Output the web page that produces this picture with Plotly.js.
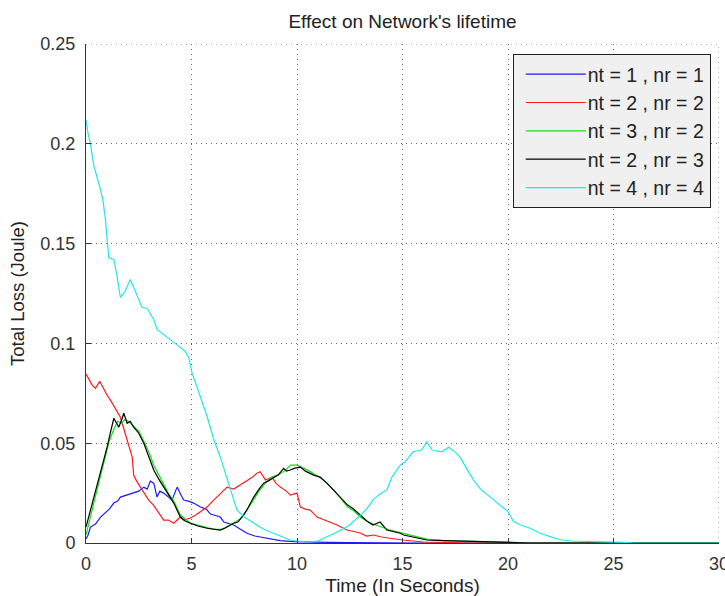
<!DOCTYPE html>
<html>
<head>
<meta charset="utf-8">
<script src="https://cdn.plot.ly/plotly-3.0.1.min.js"></script>
<style>html,body{margin:0;padding:0;background:#fff;}#chart{width:725px;height:596px;}</style>
</head>
<body>
<div id="chart"></div>
<script>
// ---- data ----
var seriesNames = ['nt = 1 , nr = 1', 'nt = 2 , nr = 2', 'nt = 3 , nr = 2', 'nt = 2 , nr = 3', 'nt = 4 , nr = 4'];

var tBlue = [0, 0.1, 0.21, 0.45, 0.69, 0.9, 1.1, 1.32, 1.5, 1.63, 1.9, 2.26, 2.5, 2.74, 2.9, 3.05, 3.21, 3.37, 3.5, 3.68, 3.9, 4.08, 4.24, 4.32, 4.5, 4.63, 4.85, 5.1, 5.42, 5.7, 5.9, 6.05, 6.37, 6.53, 6.8, 7.0, 7.3, 7.63, 8.0, 8.58, 9.2, 9.84, 10.5, 11.5, 12.5, 14, 16, 30];
var vBlue = [0.002, 0.004, 0.008, 0.0095, 0.013, 0.015, 0.017, 0.02, 0.021, 0.023, 0.024, 0.025, 0.026, 0.028, 0.027, 0.031, 0.030, 0.023, 0.026, 0.025, 0.023, 0.0215, 0.026, 0.028, 0.024, 0.0215, 0.021, 0.02, 0.018, 0.017, 0.0145, 0.014, 0.013, 0.0105, 0.0095, 0.009, 0.007, 0.0049, 0.0035, 0.0023, 0.0012, 0.0007, 0.0004, 0.0003, 0.0002, 0.0001, 0, 0];

var tRed = [0, 0.15, 0.3, 0.45, 0.65, 0.85, 1.0, 1.16, 1.4, 1.63, 1.8, 1.95, 2.19, 2.26, 2.4, 2.58, 2.8, 2.97, 3.2, 3.37, 3.55, 3.68, 3.9, 4.16, 4.32, 4.47, 4.63, 4.95, 5.2, 5.45, 5.74, 6.0, 6.3, 6.69, 7.0, 7.32, 7.6, 7.9, 8.1, 8.26, 8.5, 8.82, 9.0, 9.21, 9.5, 9.68, 10.0, 10.16, 10.4, 10.63, 10.95, 11.2, 11.58, 11.9, 12.37, 12.7, 13.0, 13.3, 13.63, 14.0, 14.3, 14.57, 15.0, 15.5, 16.0, 17, 18, 30];
var vRed = [0.0847, 0.082, 0.079, 0.0775, 0.081, 0.077, 0.074, 0.0716, 0.067, 0.063, 0.057, 0.0516, 0.043, 0.034, 0.031, 0.028, 0.024, 0.0215, 0.019, 0.0165, 0.014, 0.0115, 0.0115, 0.0099, 0.0115, 0.013, 0.0115, 0.0125, 0.014, 0.016, 0.018, 0.021, 0.024, 0.028, 0.027, 0.029, 0.031, 0.033, 0.035, 0.0357, 0.0316, 0.033, 0.030, 0.028, 0.026, 0.024, 0.025, 0.018, 0.017, 0.0165, 0.013, 0.012, 0.0105, 0.009, 0.0065, 0.0057, 0.005, 0.0035, 0.004, 0.003, 0.0025, 0.002, 0.0015, 0.001, 0.0005, 0.0003, 0, 0];

var tGreen = [0, 0.15, 0.3, 0.53, 0.7, 0.92, 1.1, 1.32, 1.5, 1.7, 1.85, 2.0, 2.2, 2.5, 2.74, 3.0, 3.21, 3.45, 3.68, 3.9, 4.16, 4.47, 4.7, 4.95, 5.3, 5.74, 6.0, 6.37, 6.6, 7.0, 7.3, 7.6, 7.95, 8.2, 8.5, 8.8, 9.1, 9.4, 9.7, 10.0, 10.3, 10.6, 10.9, 11.2, 11.5, 11.8, 12.1, 12.4, 12.7, 13.0, 13.3, 13.6, 14.0, 14.4, 14.9, 15.5, 16.2, 17, 18, 19, 20, 21, 30];
var vGreen = [0.004, 0.011, 0.017, 0.027, 0.034, 0.044, 0.051, 0.057, 0.061, 0.06, 0.062, 0.061, 0.059, 0.056, 0.051, 0.045, 0.039, 0.034, 0.029, 0.025, 0.021, 0.014, 0.012, 0.010, 0.009, 0.0078, 0.007, 0.0068, 0.0078, 0.010, 0.012, 0.016, 0.022, 0.026, 0.030, 0.033, 0.034, 0.036, 0.039, 0.039, 0.0375, 0.036, 0.034, 0.032, 0.029, 0.026, 0.022, 0.018, 0.016, 0.013, 0.011, 0.0095, 0.008, 0.0065, 0.0052, 0.0035, 0.0018, 0.0012, 0.001, 0.0008, 0.0004, 0, 0];

var tBlack = [0, 0.15, 0.3, 0.53, 0.7, 0.84, 1.0, 1.15, 1.32, 1.45, 1.55, 1.7, 1.79, 1.95, 2.1, 2.26, 2.5, 2.74, 3.0, 3.21, 3.45, 3.68, 3.9, 4.16, 4.47, 4.7, 4.95, 5.3, 5.74, 6.0, 6.37, 6.6, 7.0, 7.2, 7.47, 7.7, 7.95, 8.2, 8.42, 8.62, 8.82, 9.1, 9.37, 9.5, 9.68, 9.9, 10.16, 10.4, 10.79, 11.1, 11.42, 11.7, 12.05, 12.4, 12.68, 13.0, 13.31, 13.6, 13.94, 14.26, 14.6, 14.89, 15.05, 15.5, 16.15, 17.0, 18.0, 19.0, 20.0, 21, 30];
var vBlack = [0.008, 0.014, 0.02, 0.029, 0.035, 0.041, 0.048, 0.055, 0.0625, 0.06, 0.058, 0.062, 0.065, 0.06, 0.061, 0.058, 0.055, 0.05, 0.043, 0.0366, 0.032, 0.028, 0.024, 0.02, 0.013, 0.011, 0.0099, 0.0085, 0.0074, 0.007, 0.0065, 0.0075, 0.0099, 0.0105, 0.014, 0.018, 0.023, 0.027, 0.030, 0.031, 0.0324, 0.034, 0.0374, 0.036, 0.0366, 0.0375, 0.038, 0.036, 0.034, 0.033, 0.030, 0.027, 0.023, 0.019, 0.017, 0.014, 0.011, 0.009, 0.0105, 0.0065, 0.0055, 0.0049, 0.004, 0.003, 0.0015, 0.0012, 0.001, 0.0008, 0.0003, 0, 0];

var tCyan = [0, 0.1, 0.21, 0.37, 0.61, 0.8, 0.92, 1.08, 1.32, 1.45, 1.63, 1.85, 2.1, 2.35, 2.66, 2.9, 3.21, 3.37, 3.6, 3.84, 4.1, 4.47, 4.7, 4.87, 5.03, 5.2, 5.42, 5.75, 6.05, 6.4, 6.69, 6.95, 7.16, 7.5, 7.95, 8.4, 8.89, 9.3, 9.68, 10.0, 10.5, 11.0, 11.4, 12.0, 12.5, 13.0, 13.3, 13.63, 14.0, 14.26, 14.5, 14.89, 15.13, 15.5, 15.9, 16.15, 16.4, 16.87, 17.18, 17.45, 17.73, 18.0, 18.36, 18.7, 19.15, 19.6, 20.0, 20.26, 20.6, 21.05, 21.5, 22.0, 22.55, 23.0, 24.0, 25.0, 25.5, 26.0, 30];
var vCyan = [0.212, 0.205, 0.2, 0.189, 0.180, 0.172, 0.162, 0.143, 0.142, 0.135, 0.123, 0.126, 0.132, 0.126, 0.118, 0.1176, 0.112, 0.107, 0.105, 0.103, 0.101, 0.098, 0.096, 0.093, 0.085, 0.080, 0.073, 0.063, 0.052, 0.042, 0.032, 0.023, 0.0165, 0.013, 0.0099, 0.007, 0.0049, 0.003, 0.0015, 0.001, 0.0005, 0.001, 0.003, 0.006, 0.009, 0.014, 0.017, 0.022, 0.025, 0.0266, 0.033, 0.039, 0.0407, 0.0457, 0.0466, 0.0507, 0.0466, 0.0457, 0.048, 0.046, 0.043, 0.038, 0.0316, 0.027, 0.023, 0.019, 0.0157, 0.0107, 0.009, 0.0074, 0.005, 0.0032, 0.0015, 0.001, 0.0008, 0.0005, 0.0003, 0, 0];

var xTickVals = [0, 5, 10, 15, 20, 25, 30];
var yTickVals = [0, 0.05, 0.1, 0.15, 0.2, 0.25];
var titleText = "Effect on Network's lifetime";
var xTitle = 'Time (In Seconds)';
var yTitle = 'Total Loss (Joule)';

// ---- styles ----
var colors = ['#1a1aff', '#ff1a1a', '#10e010', '#000000', '#20e8e8'];
var xs = [tBlue, tRed, tGreen, tBlack, tCyan];
var ys = [vBlue, vRed, vGreen, vBlack, vCyan];
var FONT = 'Liberation Sans, Arial, Helvetica, sans-serif';
var GRID = '#666';
var GRIDDASH = '1px,4px';

var traces = seriesNames.map(function (n, i) {
  return {
    x: xs[i], y: ys[i], name: n, type: 'scatter', mode: 'lines',
    legendgroup: 'g' + i,
    line: {color: colors[i], width: 1.2}
  };
});

var axisCommon = {
  showline: true, linecolor: '#333', linewidth: 1,
  ticks: 'inside', ticklen: 5, tickcolor: '#333', tickwidth: 1,
  showgrid: true, gridcolor: GRID, gridwidth: 1, griddash: GRIDDASH,
  zeroline: false, automargin: false, ticklabeloverflow: 'allow',
  tickfont: {family: FONT, size: 18, color: '#333'}
};

var xMax = xTickVals[xTickVals.length - 1];
var yMax = yTickVals[yTickVals.length - 1];

var layout = {
  width: 725, height: 596,
  margin: {l: 86, r: 6, t: 44, b: 53},
  paper_bgcolor: '#fff', plot_bgcolor: '#fff',
  font: {family: FONT, color: '#222'},
  title: {text: titleText, font: {family: FONT, size: 19, color: '#222'},
          x: 0.5, xref: 'paper', xanchor: 'center', y: 0.964, yanchor: 'middle'},
  xaxis: Object.assign({}, axisCommon, {
    range: [0, xMax], tickvals: xTickVals, ticklabelstandoff: 4,
    title: {text: xTitle, font: {family: FONT, size: 19, color: '#222'}, standoff: 6}
  }),
  yaxis: Object.assign({}, axisCommon, {
    range: [0, yMax], tickvals: yTickVals, ticklabelstandoff: 6,
    title: {text: yTitle, font: {family: FONT, size: 18.5, color: '#222'}, standoff: 10}
  }),
  // dotted grid lines on the far edges (top and right), as in the reference
  shapes: [
    {type: 'line', xref: 'paper', yref: 'y', x0: 0, x1: 1, y0: yMax, y1: yMax,
     line: {color: GRID, width: 1, dash: GRIDDASH}, layer: 'below'},
    {type: 'line', xref: 'x', yref: 'paper', x0: xMax, x1: xMax, y0: 0, y1: 1,
     line: {color: GRID, width: 1, dash: GRIDDASH}, layer: 'below'}
  ],
  showlegend: true,
  legend: {
    x: 0.987, xanchor: 'right', y: 0.98, yanchor: 'top',
    bgcolor: '#f0f0f0', bordercolor: '#222', borderwidth: 1,
    font: {family: FONT, size: 19.5, color: '#222'},
    tracegroupgap: 0, itemwidth: 64
  }
};

Plotly.newPlot('chart', traces, layout, {displayModeBar: false, staticPlot: true}).then(function (gd) {
  // lengthen the legend line samples so they reach the labels, like the MATLAB legend
  var items = gd.querySelectorAll('.legend g.traces');
  items.forEach(function (g, i) {
    var p = g.querySelector('g.legendlines path');
    if (!p) return;
    p.setAttribute('d', 'M12,0h60');
    p.style.stroke = colors[i];
    p.style.strokeWidth = '1.2px';
    p.style.strokeOpacity = '1';
  });
});
</script>
</body>
</html>
